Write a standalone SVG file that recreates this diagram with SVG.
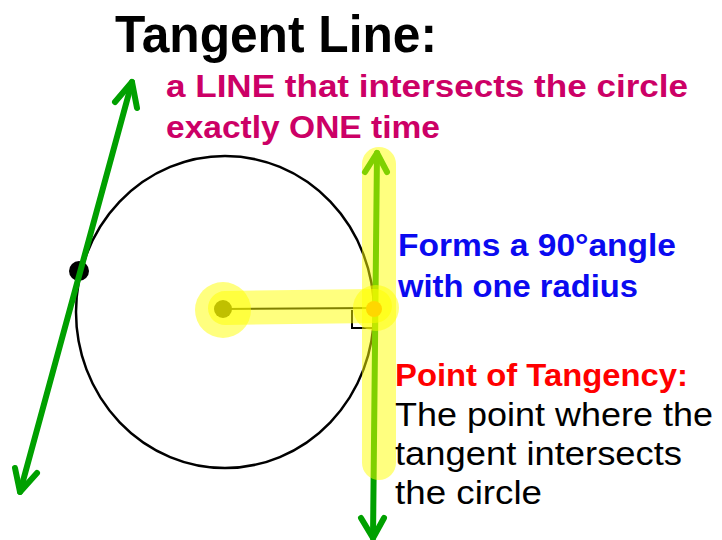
<svg xmlns="http://www.w3.org/2000/svg" width="722" height="540" viewBox="0 0 722 540">
<defs>
<style>
.b{font-family:"Liberation Sans",Arial,sans-serif;font-weight:bold}
.r{font-family:"Liberation Sans",Arial,sans-serif}
.grn{fill:none;stroke:#00A000;stroke-width:6;stroke-linecap:round;stroke-linejoin:round}
.hl{fill:#FFFF00;opacity:0.5}
</style>
</defs>
<rect width="722" height="540" fill="#fff"/>
<g id="title">
<text class="b" x="115" y="52" font-size="52" textLength="322" lengthAdjust="spacingAndGlyphs" fill="#000">Tangent Line:</text>
</g>
<g id="definition" fill="#CC0066">
<text class="b" x="166" y="97" font-size="32" textLength="522" lengthAdjust="spacingAndGlyphs">a LINE that intersects the circle</text>
<text class="b" x="166" y="138" font-size="32" textLength="274" lengthAdjust="spacingAndGlyphs">exactly ONE time</text>
</g>
<g id="circle">
<ellipse cx="225" cy="312" rx="149" ry="156" fill="none" stroke="#000" stroke-width="2.5"/>
<circle cx="79" cy="271" r="10" fill="#000"/>
</g>
<g id="connectors">
<g id="secant-line">
<line class="grn" x1="132" y1="82" x2="20" y2="492"/>
<polyline class="grn" points="115,102 132,82 137,108"/>
<polyline class="grn" points="15,468 20,492 37,473"/>
</g>
<g id="tangent-line">
<line class="grn" x1="377" y1="153" x2="373" y2="538"/>
<polyline class="grn" points="365,172 377,153 387,172"/>
<polyline class="grn" points="361,518 373,538 384,518"/>
</g>
<g id="radius">
<line x1="223" y1="309" x2="373" y2="308" stroke="#000" stroke-width="2"/>
<circle cx="223" cy="309" r="9" fill="#000"/>
<polyline points="352,310 352,328 372,328" fill="none" stroke="#000" stroke-width="2"/>
</g>
</g>
<g id="highlights">
<rect class="hl" x="362" y="147" width="34" height="333" rx="17"/>
<line x1="225" y1="308" x2="375" y2="306" stroke="#FFFF00" stroke-width="34" stroke-linecap="round" opacity="0.5"/>
<circle class="hl" cx="223" cy="310" r="28"/>
<circle class="hl" cx="376" cy="308" r="23"/>
</g>
<g id="point-of-tangency">
<circle cx="374" cy="309" r="8" fill="#FFD700"/>
</g>
<g id="angle-note" fill="#0A0AF0">
<text class="b" x="398" y="256" font-size="32" textLength="278" lengthAdjust="spacingAndGlyphs">Forms a 90°angle</text>
<text class="b" x="398" y="297" font-size="32" textLength="240" lengthAdjust="spacingAndGlyphs">with one radius</text>
</g>
<g id="tangency-note">
<text class="b" x="395" y="386" font-size="32" textLength="293" lengthAdjust="spacingAndGlyphs" fill="#FF0000">Point of Tangency:</text>
<text class="r" x="395" y="426" font-size="33" textLength="318" lengthAdjust="spacingAndGlyphs" fill="#000">The point where the</text>
<text class="r" x="395" y="465" font-size="33" textLength="287" lengthAdjust="spacingAndGlyphs" fill="#000">tangent intersects</text>
<text class="r" x="395" y="504" font-size="33" textLength="147" lengthAdjust="spacingAndGlyphs" fill="#000">the circle</text>
</g>
</svg>
